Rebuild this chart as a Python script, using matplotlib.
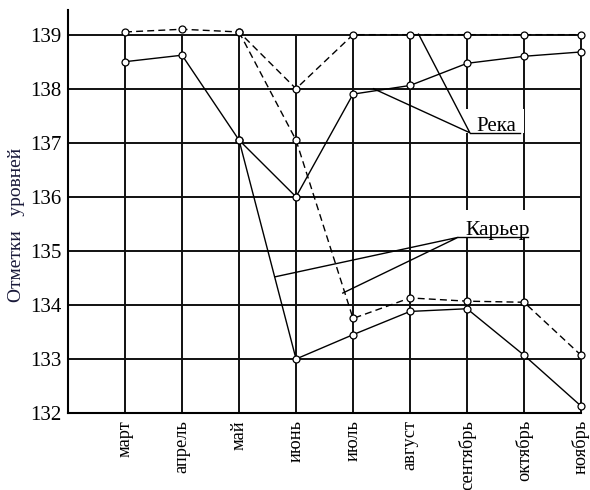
import matplotlib
matplotlib.use("Agg")
import matplotlib.pyplot as plt
from matplotlib.patches import Rectangle

plt.rcParams['font.family'] = ['Liberation Serif', 'DejaVu Serif']

months = ['март', 'апрель', 'май', 'июнь', 'июль', 'август', 'сентябрь', 'октябрь', 'ноябрь']
levels = [132, 133, 134, 135, 136, 137, 138, 139]

# река
river_dash = [139.05, 139.1, 139.05, 138.0, 139.0, 139.0, 139.0, 139.0, 139.0]
river_solid = [138.5, 138.62, 137.05, 136.0, 137.9, 138.06, 138.47, 138.6, 138.68]
# карьер (с мая)
quarry_months = months[2:]
quarry_dash = [139.05, 137.05, 133.75, 134.13, 134.07, 134.05, 133.07]
quarry_solid = [137.05, 133.0, 133.45, 133.88, 133.93, 133.07, 132.13]

x = list(range(1, len(months) + 1))
xq = x[2:]

fig = plt.figure(figsize=(5.9, 4.9), dpi=100)
ax = fig.add_axes([0.1153, 0.157, 0.8695, 0.823])
ax.set_xlim(0, 9)
ax.set_ylim(132, 139.46)

for s in ['top', 'right']:
    ax.spines[s].set_visible(False)
ax.spines['left'].set_linewidth(1.5)
ax.spines['bottom'].set_linewidth(1.5)

# сетка
ax.hlines(levels[1:], 0, 9, colors='#111111', lw=1.4, zorder=1)
ax.vlines(x, 132, 139, colors='#111111', lw=1.4, zorder=1, clip_on=False)

# белые подложки под подписи
ax.add_patch(Rectangle((6.9, 137.19), 1.1, 0.43, facecolor='white', edgecolor='none', zorder=2))
ax.add_patch(Rectangle((6.82, 135.26), 1.26, 0.5, facecolor='white', edgecolor='none', zorder=2))

mk = dict(marker='o', ms=5, mfc='white', mec='black', mew=0.9, color='black', lw=1.0, zorder=4, clip_on=False)
ax.plot(x, river_dash, ls=(0, (5, 3)), **mk)
ax.plot(x, river_solid, ls='-', **mk)
ax.plot(xq, quarry_dash, ls=(0, (5, 3)), **mk)
ax.plot(xq, quarry_solid, ls='-', **mk)

# подписи с выносками
ax.text(7.17, 137.21, 'Река', fontsize=15, zorder=5)
ax.plot([7.05, 7.93], [137.185, 137.185], color='black', lw=1.0, zorder=5)
ax.plot([5.36, 7.05, 6.15], [138.0, 137.185, 139.01], color='black', lw=1.0, zorder=3)

ax.text(6.97, 135.29, 'Карьер', fontsize=15.5, zorder=5)
ax.plot([6.84, 8.07], [135.25, 135.25], color='black', lw=1.0, zorder=5)
ax.plot([3.63, 6.84, 4.82], [134.52, 135.25, 134.22], color='black', lw=1.0, zorder=3)

ax.set_xticks(x)
ax.set_xticklabels(months, rotation=90, fontsize=13.2)
ax.set_yticks(levels)
ax.set_yticklabels([str(v) for v in levels], fontsize=15)
ax.tick_params(axis='y', length=0, pad=5)
ax.tick_params(axis='x', length=0, pad=5)

fig.text(0.028, 0.54, 'Отметки   уровней', rotation=90, fontsize=14,
         color='#1a1a3a', ha='center', va='center')

fig.savefig('out.png', dpi=100)
